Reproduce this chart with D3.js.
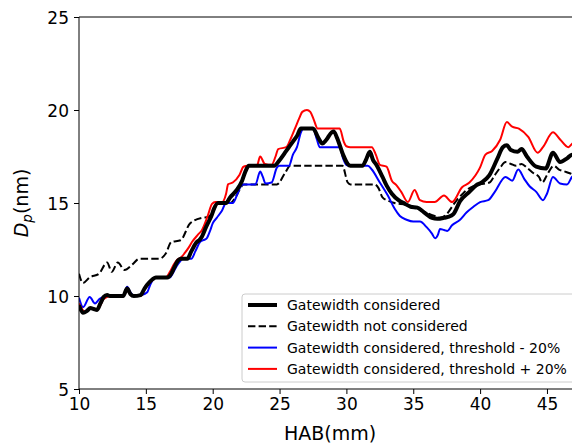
<!DOCTYPE html>
<html><head><meta charset="utf-8">
<script src="https://cdn.jsdelivr.net/npm/d3@7"></script>
<style>body{margin:0;background:#fff}svg{display:block}text{font-family:"DejaVu Sans",sans-serif}</style>
</head><body>
<svg id="c" width="572" height="444"></svg>
<script>
// ---- data (HAB in mm, Dp in nm) ----
const xTicks = [10, 15, 20, 25, 30, 35, 40, 45];
const yTicks = [5, 10, 15, 20, 25];
const seriesNames = [
  "Gatewidth considered",
  "Gatewidth not considered",
  "Gatewidth considered, threshold - 20%",
  "Gatewidth considered, threshold + 20%"
];
const gwX = [10.0,10.3,10.6,10.85,11.1,11.35,11.6,11.85,12.1,12.3,13.3,13.6,13.85,14.1,14.6,14.9,15.1,15.5,15.75,16.6,16.9,17.1,17.4,17.6,18.1,18.4,18.8,19.0,19.2,19.5,19.7,19.9,20.1,20.4,21.0,21.3,21.8,22.2,22.45,22.7,24.6,25.0,25.5,25.7,26.0,26.3,26.6,27.5,27.9,28.2,28.5,28.9,29.05,29.3,29.75,30.1,30.3,31.2,31.45,31.75,32.0,32.2,32.7,33.0,33.4,33.9,34.4,34.8,35.3,35.8,36.4,36.8,37.3,37.6,38.0,38.5,39.2,39.7,40.1,40.7,41.3,41.7,42.0,42.3,42.8,43.1,43.5,44.2,44.9,45.45,45.98,46.5,46.87,47.0];
const gwY = [9.5,9.1,9.2,9.35,9.3,9.25,9.6,9.95,10.05,10.0,10.0,10.4,10.1,10.0,10.05,10.4,10.6,10.9,11.0,11.0,11.2,11.5,11.9,12.0,12.0,12.4,12.9,13.0,13.2,13.7,14.0,14.3,14.7,15.0,15.0,15.3,15.7,16.2,16.7,17.0,17.0,17.3,17.8,18.0,18.3,18.6,19.0,19.0,18.5,18.2,18.4,18.8,18.85,18.5,17.6,17.1,17.0,17.0,17.3,17.75,17.3,17.1,16.4,15.95,15.5,15.15,14.95,14.8,14.75,14.5,14.2,14.15,14.2,14.25,14.4,15.1,15.6,15.95,16.1,16.5,17.4,18.0,18.1,17.85,17.75,17.9,17.5,16.95,16.85,17.7,17.2,17.4,17.6,17.6];
const ngX = [10.0,10.3,10.8,11.5,12.1,12.45,12.9,13.4,14.0,14.5,16.0,16.5,16.9,17.6,18.3,18.6,19.2,19.65,20.0,20.4,21.3,21.7,22.0,22.3,24.8,25.4,25.8,29.7,30.1,30.3,32.1,32.4,32.7,33.2,33.6,34.5,35.3,35.9,36.6,37.0,37.5,37.9,38.3,38.7,39.0,39.5,40.0,40.7,41.1,41.5,41.9,42.3,42.7,43.1,43.5,44.0,44.4,44.65,45.0,45.5,45.9,46.3,46.7,47.0];
const ngY = [11.2,10.7,11.0,11.2,11.8,11.3,11.8,11.4,11.7,12.0,12.0,12.3,12.9,13.0,13.9,14.05,14.2,14.25,14.5,15.0,15.0,15.3,15.7,16.0,16.0,16.6,17.0,17.0,16.1,16.0,16.0,15.8,15.3,15.1,15.0,14.9,14.7,14.5,14.3,14.2,14.4,14.8,15.2,15.5,15.7,15.9,16.0,16.1,16.5,16.9,17.2,17.1,17.0,17.1,16.9,16.6,16.4,16.1,16.5,17.0,16.8,16.7,16.6,16.5];
const loX = [10.0,10.3,10.8,11.2,11.55,11.8,12.1,13.3,13.6,13.85,14.1,14.7,15.1,15.3,15.55,15.8,16.8,17.0,17.3,17.6,17.8,18.4,18.7,19.05,19.3,19.55,19.8,20.0,20.3,20.7,21.0,21.5,21.8,22.1,22.3,23.2,23.55,23.75,23.95,24.4,24.8,25.0,25.7,26.0,26.3,26.6,26.8,27.5,27.8,28.0,29.5,29.75,30.0,30.2,31.6,31.9,32.5,33.1,33.6,34.0,34.5,35.0,35.5,36.0,36.4,36.63,36.85,37.0,37.3,37.55,37.9,38.5,39.0,39.5,40.0,40.6,41.1,41.9,42.4,42.85,43.3,43.7,44.2,44.7,45.0,45.45,45.98,46.5,46.87,47.0];
const loY = [9.9,9.4,9.95,9.6,9.85,9.95,10.0,10.0,10.5,10.2,10.0,10.05,10.2,10.55,10.9,11.0,11.0,11.2,11.6,11.9,12.0,12.0,12.4,12.9,13.0,13.1,13.5,13.9,14.2,14.6,15.0,15.0,15.4,15.9,16.0,16.0,16.7,16.4,16.05,16.1,16.9,17.0,17.0,17.6,18.0,18.8,19.0,19.0,18.4,18.0,18.0,17.4,17.05,17.0,17.0,16.8,16.1,15.4,14.7,14.3,14.1,14.0,14.0,13.7,13.35,13.1,13.3,13.6,13.55,13.5,13.8,14.1,14.5,14.8,15.05,15.15,15.6,16.4,16.2,16.8,16.3,15.9,15.6,15.15,15.5,16.4,16.05,16.0,16.4,16.5];
const hiX = [10.0,10.45,10.9,11.35,11.6,11.8,12.1,12.3,13.3,13.6,13.85,14.1,14.6,14.9,15.1,15.5,15.75,16.5,16.8,17.1,17.35,17.6,17.9,18.2,18.45,18.9,19.2,19.6,19.95,20.2,20.7,21.0,21.15,21.5,22.0,22.3,22.6,23.3,23.55,23.9,24.4,24.7,24.9,25.5,25.8,26.15,26.5,26.7,27.05,27.3,27.55,27.85,29.5,29.8,30.0,30.3,31.9,32.2,32.5,33.0,33.4,33.75,34.1,34.6,35.1,35.5,36.0,36.6,37.3,37.9,38.65,39.2,39.99,40.4,40.9,41.5,42.0,42.4,42.9,43.6,44.3,44.7,45.45,46.0,46.6,46.9,47.0];
const hiY = [9.6,9.15,9.35,9.25,9.5,9.8,9.95,10.0,10.0,10.3,10.1,10.0,10.0,10.35,10.6,10.85,11.0,11.0,11.3,11.7,11.95,12.05,12.3,12.6,12.9,13.3,13.55,14.25,14.95,15.05,15.05,15.5,16.0,16.1,16.5,16.95,17.0,17.0,17.5,17.1,17.05,17.5,17.9,18.0,18.4,19.0,19.6,19.9,20.0,19.9,19.5,19.0,19.0,18.3,18.05,18.0,18.0,17.6,17.05,16.95,16.2,15.95,15.6,15.05,15.7,15.15,15.05,15.05,15.4,15.05,15.85,16.1,16.9,17.6,17.8,18.4,19.35,19.1,19.0,18.55,17.7,18.0,18.8,18.4,18.0,18.2,18.25];

const series = [
  {name: seriesNames[0], xs: gwX, ys: gwY, color: "#000000", width: 4, dash: null},
  {name: seriesNames[1], xs: ngX, ys: ngY, color: "#000000", width: 2, dash: "7.4,3.2"},
  {name: seriesNames[2], xs: loX, ys: loY, color: "#0000ff", width: 2, dash: null},
  {name: seriesNames[3], xs: hiX, ys: hiY, color: "#ff0000", width: 2, dash: null}
];

const svg = d3.select("#c");
const x = d3.scaleLinear().domain([10, 47]).range([79, 573.7]);
const y = d3.scaleLinear().domain([5, 25]).range([389, 17]);

svg.append("defs").append("clipPath").attr("id","clip")
  .append("rect").attr("x",79).attr("y",17).attr("width",494.7).attr("height",372);

const line = d3.line().x(d => x(d[0])).y(d => y(d[1])).curve(d3.curveMonotoneX);
const g = svg.append("g").attr("clip-path","url(#clip)");
[1,2,3,0].forEach(i => {
  const s = series[i];
  const pts = s.xs.map((v,k) => [v, s.ys[k]]);
  g.append("path").datum(pts).attr("d", line)
    .attr("fill","none").attr("stroke", s.color).attr("stroke-width", s.width)
    .attr("stroke-dasharray", s.dash).attr("stroke-linejoin","round");
});

// axes
const xAxis = d3.axisBottom(x).tickValues(xTicks).tickSize(5).tickPadding(4).tickFormat(d3.format("d"));
const yAxis = d3.axisLeft(y).tickValues(yTicks).tickSize(5).tickPadding(5).tickFormat(d3.format("d"));
const gx = svg.append("g").attr("transform","translate(0,389)").call(xAxis);
const gy = svg.append("g").attr("transform","translate(79,0)").call(yAxis);
[gx, gy].forEach(a => {
  a.select(".domain").remove();
  a.selectAll("line").attr("stroke","#000").attr("stroke-width",1);
  a.selectAll("text").attr("font-size",17).attr("fill","#000").attr("font-family","DejaVu Sans");
});
gy.selectAll("text").attr("dy","0.36em");
// spines
svg.append("line").attr("x1",79).attr("x2",79).attr("y1",17).attr("y2",389).attr("stroke","#000");
svg.append("line").attr("x1",79).attr("x2",573.7).attr("y1",389).attr("y2",389).attr("stroke","#000");
svg.append("line").attr("x1",79).attr("x2",573.7).attr("y1",17).attr("y2",17).attr("stroke","#000");
svg.append("line").attr("x1",573.7).attr("x2",573.7).attr("y1",17).attr("y2",389).attr("stroke","#000");

// axis labels
svg.append("text").attr("x", 330).attr("y", 440).attr("text-anchor","middle")
  .attr("font-size",19).attr("fill","#000").text("HAB(mm)");
const yl = svg.append("text").attr("transform","translate(28,203) rotate(-90)")
  .attr("text-anchor","middle").attr("font-size",19).attr("fill","#000");
yl.append("tspan").attr("font-style","italic").text("D");
yl.append("tspan").attr("font-style","italic").attr("font-size",13.5).attr("dy",4).text("p");
yl.append("tspan").attr("dy",-4).text("(nm)");

// legend
const lg = svg.append("g");
lg.append("rect").attr("x",242).attr("y",294).attr("width",335).attr("height",88).attr("rx",3)
  .attr("fill","#fff").attr("fill-opacity",0.8).attr("stroke","#cccccc");
series.forEach((s,i) => {
  const cy = 305 + i*21.3;
  lg.append("line").attr("x1",248).attr("x2",277).attr("y1",cy).attr("y2",cy)
    .attr("stroke",s.color).attr("stroke-width",s.width).attr("stroke-dasharray",s.dash);
  lg.append("text").attr("x",287).attr("y",cy).attr("dy","0.36em").attr("font-size",14)
    .attr("fill","#000").text(s.name);
});
</script>
</body></html>
